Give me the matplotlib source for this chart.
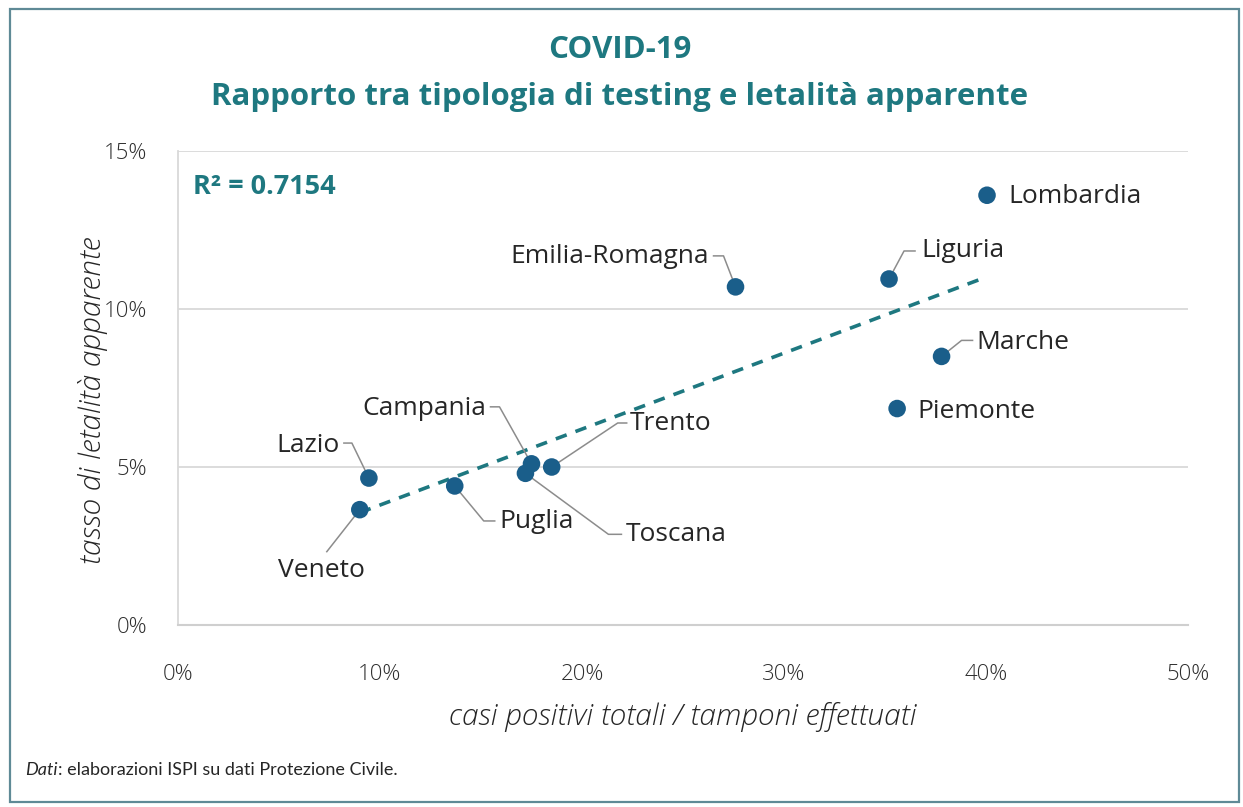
import numpy as np
import matplotlib
matplotlib.use("Agg")
import matplotlib.pyplot as plt
from matplotlib.lines import Line2D
from matplotlib.patches import Rectangle
from matplotlib.transforms import IdentityTransform, ScaledTranslation
from matplotlib.ticker import FuncFormatter

plt.rcParams['font.family'] = ['Open Sans', 'DejaVu Sans']

# ---- data (percent) ----
regions = ["Lombardia", "Liguria", "Emilia-Romagna", "Marche", "Piemonte",
           "Trento", "Campania", "Toscana", "Puglia", "Lazio", "Veneto"]
positivity = [40.05, 35.2, 27.6, 37.8, 35.6, 18.5, 17.5, 17.2, 13.7, 9.45, 9.0]
lethality = [13.6, 10.95, 10.7, 8.5, 6.85, 5.0, 5.1, 4.8, 4.4, 4.65, 3.65]
x_ticks = [0, 10, 20, 30, 40, 50]
y_ticks = [0, 5, 10, 15]
r2_label = "R² = 0.7154"

# label layout: (dx, dy) pixel offsets (dy downward), ha, leader path offsets
label_layout = {
    "Lombardia":      ((21, 1), "left", None),
    "Liguria":        ((32, -28), "left", [(0, 0), (15, -28), (26, -28)]),
    "Emilia-Romagna": ((-27, -30), "right", [(0, 0), (-12, -31), (-22, -31)]),
    "Marche":         ((35, -14), "left", [(0, 0), (20, -16), (31, -16)]),
    "Piemonte":       ((20, 3), "left", None),
    "Trento":         ((78, -43), "left", [(0, 0), (66, -44), (75, -44)]),
    "Campania":       ((-45, -55), "right", [(0, 0), (-32, -57), (-41, -57)]),
    "Toscana":        ((100, 61), "left", [(0, 0), (83, 61), (96, 61)]),
    "Puglia":         ((45, 36), "left", [(0, 0), (29, 35), (40, 35)]),
    "Lazio":          ((-29, -33), "right", [(0, 0), (-17, -35), (-25, -35)]),
    "Veneto":         ((-38, 61), "center", [(0, 0), (-33, 42)]),
}

teal = "#1e7880"
dot = "#1a5e8a"
txt = "#262626"
grid = "#d9d9d9"

W, H = 1243, 807
fig = plt.figure(figsize=(W / 100, H / 100), dpi=100)
fig.patch.set_facecolor("white")

# outer frame
fig.add_artist(Rectangle((10 / W, 5 / H), 1229 / W, 793 / H, transform=fig.transFigure,
                         fill=False, edgecolor="#5f8a96", linewidth=1.6))

ax = fig.add_axes([178 / W, 1 - 625 / H, 1010 / W, 474 / H])
ax.set_xlim(0, 50)
ax.set_ylim(0, 15)
ax.set_xticks(x_ticks)
ax.set_yticks(y_ticks)
ax.xaxis.set_major_formatter(FuncFormatter(lambda v, p: f"{v:.0f}%"))
ax.yaxis.set_major_formatter(FuncFormatter(lambda v, p: f"{v:.0f}%"))
ax.tick_params(axis="both", length=0, labelsize=16, labelcolor="#2e2e2e")
for lab in ax.get_xticklabels() + ax.get_yticklabels():
    lab.set_fontweight("light")
ax.tick_params(axis="x", pad=28)
ax.tick_params(axis="y", pad=22)
ax.grid(axis="y", color=grid, linewidth=1.3)
ax.set_axisbelow(True)
for s in ["top", "right"]:
    ax.spines[s].set_visible(False)
ax.spines["left"].set_color(grid)
ax.spines["bottom"].set_color("#cfcfcf")
ax.spines["left"].set_linewidth(1.3)
ax.spines["bottom"].set_linewidth(1.5)

# trend line
xs = np.array(positivity)
ys = np.array(lethality)
k, b = np.polyfit(xs, ys, 1)
xl = np.array([xs.min(), xs.max()])
ax.plot(xl, k * xl + b, linestyle=(0, (3.2, 2.6)), color=teal, linewidth=2.6, zorder=2)

# leader lines and labels
for name, xv, yv in zip(regions, positivity, lethality):
    (dx, dy), ha, path = label_layout[name]
    if path:
        tr = IdentityTransform() + ScaledTranslation(xv, yv, ax.transData)
        ax.add_line(Line2D([p[0] for p in path], [-p[1] for p in path], transform=tr,
                           color="#8c8c8c", linewidth=1.1, zorder=3))
    ax.annotate(name, xy=(xv, yv), xytext=(dx, -dy), textcoords="offset pixels",
                ha=ha, va="center", fontsize=19, color=txt, zorder=5)

ax.scatter(positivity, lethality, s=160, color=dot, edgecolor="none", zorder=4)

ax.text(0.015, 0.924, r2_label, transform=ax.transAxes, ha="left", va="center",
        fontsize=19.5, fontweight="bold", color=teal)

# titles
fig.text(620 / W, 1 - 50 / H, "COVID-19", ha="center", va="center",
         fontsize=22.5, fontweight="bold", color=teal)
fig.text(620 / W, 1 - 97 / H, "Rapporto tra tipologia di testing e letalità apparente",
         ha="center", va="center", fontsize=22.5, fontweight="bold", color=teal)

# axis titles
fig.text(683 / W, 1 - 717 / H, "casi positivi totali / tamponi effettuati", ha="center",
         va="center", fontsize=21.5, style="italic", fontweight="light", color=txt)
fig.text(93 / W, 1 - 400 / H, "tasso di letalità apparente", ha="center", va="center",
         rotation=90, fontsize=21.5, style="italic", fontweight="light", color=txt)

# footer
foot_font = ['Lato', 'DejaVu Sans']
t1 = fig.text(25 / W, 1 - 770 / H, "Dati", ha="left", va="center", fontsize=13,
              style="italic", color=txt, family=foot_font)
fig.canvas.draw()
bb = t1.get_window_extent(renderer=fig.canvas.get_renderer())
fig.text(bb.x1 / W, 1 - 770 / H, ": elaborazioni ISPI su dati Protezione Civile.",
         ha="left", va="center", fontsize=13, color=txt, family=foot_font)

fig.savefig("out.png", dpi=100)
